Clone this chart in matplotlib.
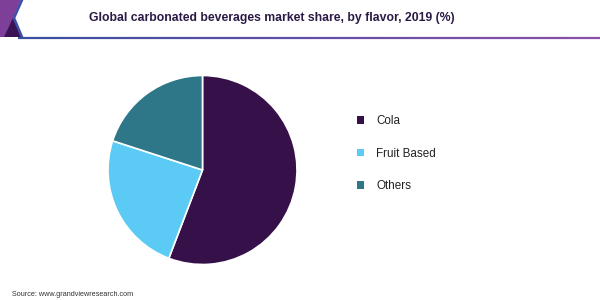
import matplotlib
matplotlib.use("Agg")
import matplotlib.pyplot as plt
import numpy as np
from matplotlib.patches import Polygon

plt.rcParams['font.family'] = ['Liberation Sans', 'DejaVu Sans']

categories = ["Cola", "Fruit Based", "Others"]
shares = [55.8, 24.2, 20.0]
colors = ["#361049", "#5BCBF5", "#2E7789"]
title = "Global carbonated beverages market share, by flavor, 2019 (%)"
source = "Source: www.grandviewresearch.com"

W, H = 600, 300
fig = plt.figure(figsize=(6, 3), dpi=100)
fig.patch.set_facecolor("white")

# decorative background axes in pixel coords
bg = fig.add_axes([0, 0, 1, 1])
bg.set_xlim(0, W)
bg.set_ylim(H, 0)
bg.axis("off")
# corner decoration
bg.add_patch(Polygon([[0, 0], [21, 0], [13, 18], [21, 37], [0, 37]], closed=True,
                     facecolor="#7E3F98", edgecolor="none"))
bg.add_patch(Polygon([[4, 37], [13, 18], [21, 37]], closed=True,
                     facecolor="#3A1452", edgecolor="none"))
bg.plot([22, 14, 22], [0, 18, 37], color="#3A4FA8", lw=1.8, solid_joinstyle="miter")
# gradient line under title
n = 200
xs = np.linspace(18, 600, n + 1)
c0 = np.array([0x3A, 0x4F, 0xA0]) / 255
c1 = np.array([0x8A, 0x4F, 0xA8]) / 255
for i in range(n):
    t = i / (n - 1)
    bg.plot([xs[i], xs[i + 1]], [37.5, 37.5], color=tuple(c0 * (1 - t) + c1 * t),
            lw=1.6, solid_capstyle="butt")

fig.text(272 / W, 1 - 18 / H, title, ha="center", va="center", fontsize=8.8,
         fontweight="bold", color="#2B1A45")
fig.text(12 / W, 1 - 294.5 / H, source, ha="left", va="center", fontsize=5.2,
         color="#333333")

# pie axes: center (202.5,170), radius ~94.5
r = 94.5
cx, cy = 202.5, 170
ax = fig.add_axes([(cx - r) / W, 1 - (cy + r) / H, 2 * r / W, 2 * r / H])
wedges, _ = ax.pie(shares, colors=colors, startangle=90, counterclock=False,
                   wedgeprops=dict(edgecolor="white", linewidth=1.2))
ax.set_aspect("auto")
ax.set_xlim(-1, 1)
ax.set_ylim(-1, 1)

leg = fig.legend(wedges, categories, loc="upper left",
                 bbox_to_anchor=(351 / W, 1 - 109 / H), frameon=False,
                 fontsize=8.4, handlelength=0.65, handleheight=0.65,
                 handletextpad=1.0, labelspacing=1.78, borderpad=0)
for h in leg.legend_handles:
    h.set_edgecolor("none")
for t in leg.get_texts():
    t.set_color("#222222")

fig.savefig("out.png", dpi=100, facecolor="white")
